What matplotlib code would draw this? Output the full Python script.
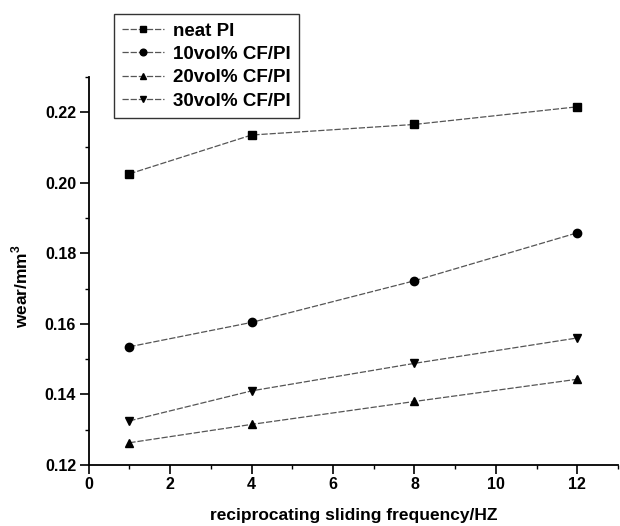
import matplotlib
matplotlib.use("Agg")
import matplotlib.pyplot as plt
from matplotlib.ticker import MultipleLocator

plt.rcParams.update({
    "font.family": ["Liberation Sans", "DejaVu Sans"],
    "font.size": 11,
    "font.weight": "bold",
    "mathtext.fontset": "custom",
    "mathtext.rm": "Liberation Sans:bold",
})

# ── Data ─────────────────────────────────────────────────────
freq = [1, 4, 8, 12]
neat_pi = [0.2025, 0.2135, 0.2165, 0.2215]
cf10 = [0.1535, 0.1604, 0.1722, 0.1858]
cf20 = [0.1263, 0.1315, 0.1380, 0.1443]
cf30 = [0.1325, 0.1410, 0.1488, 0.1560]

series = [
    (neat_pi, "s", "neat PI"),
    (cf10, "o", "10vol% CF/PI"),
    (cf20, "^", "20vol% CF/PI"),
    (cf30, "v", "30vol% CF/PI"),
]

# ── Draw ─────────────────────────────────────────────────────
fig = plt.figure(figsize=(6.2, 5.26), dpi=100)
ax = fig.add_axes([0.143, 0.116, 0.854, 0.738])

for vals, mk, label in series:
    ax.plot(freq, vals, linestyle=(0, (5, 1.5)), color="#555555", linewidth=0.9,
            marker=mk, markersize=6, markerfacecolor="black",
            markeredgecolor="black", label=label)

ax.set_xlim(0, 13)
ax.set_ylim(0.12, 0.23)
ax.xaxis.set_major_locator(MultipleLocator(2))
ax.xaxis.set_minor_locator(MultipleLocator(1))
ax.yaxis.set_major_locator(MultipleLocator(0.02))
ax.yaxis.set_minor_locator(MultipleLocator(0.01))
ax.yaxis.set_major_formatter(plt.FormatStrFormatter("%.2f"))

for side in ("top", "right"):
    ax.spines[side].set_visible(False)
for side in ("left", "bottom"):
    ax.spines[side].set_linewidth(1.3)
ax.tick_params(which="major", direction="out", length=6.5, width=1.2,
               labelsize=11.5, pad=2.5)
ax.tick_params(which="minor", direction="out", length=3, width=1.0)

ax.set_xlabel("reciprocating sliding frequency/HZ", fontsize=12.5,
              fontweight="bold", labelpad=11)
ax.set_ylabel("wear/mm$^3$", fontsize=12.5, fontweight="bold")
ax.yaxis.set_label_coords(-0.11, 0.461)

leg = fig.legend(loc="upper left", bbox_to_anchor=(114 / 620, 1 - 14 / 526),
                 borderaxespad=0, frameon=True, fancybox=False,
                 edgecolor="black", prop={"size": 13.5, "weight": "bold"},
                 handlelength=2.2, handletextpad=0.5, labelspacing=0.33,
                 borderpad=0.45, markerscale=0.8)
leg.get_frame().set_linewidth(1.0)

fig.savefig("out.png", dpi=100, facecolor="white")
plt.close(fig)
